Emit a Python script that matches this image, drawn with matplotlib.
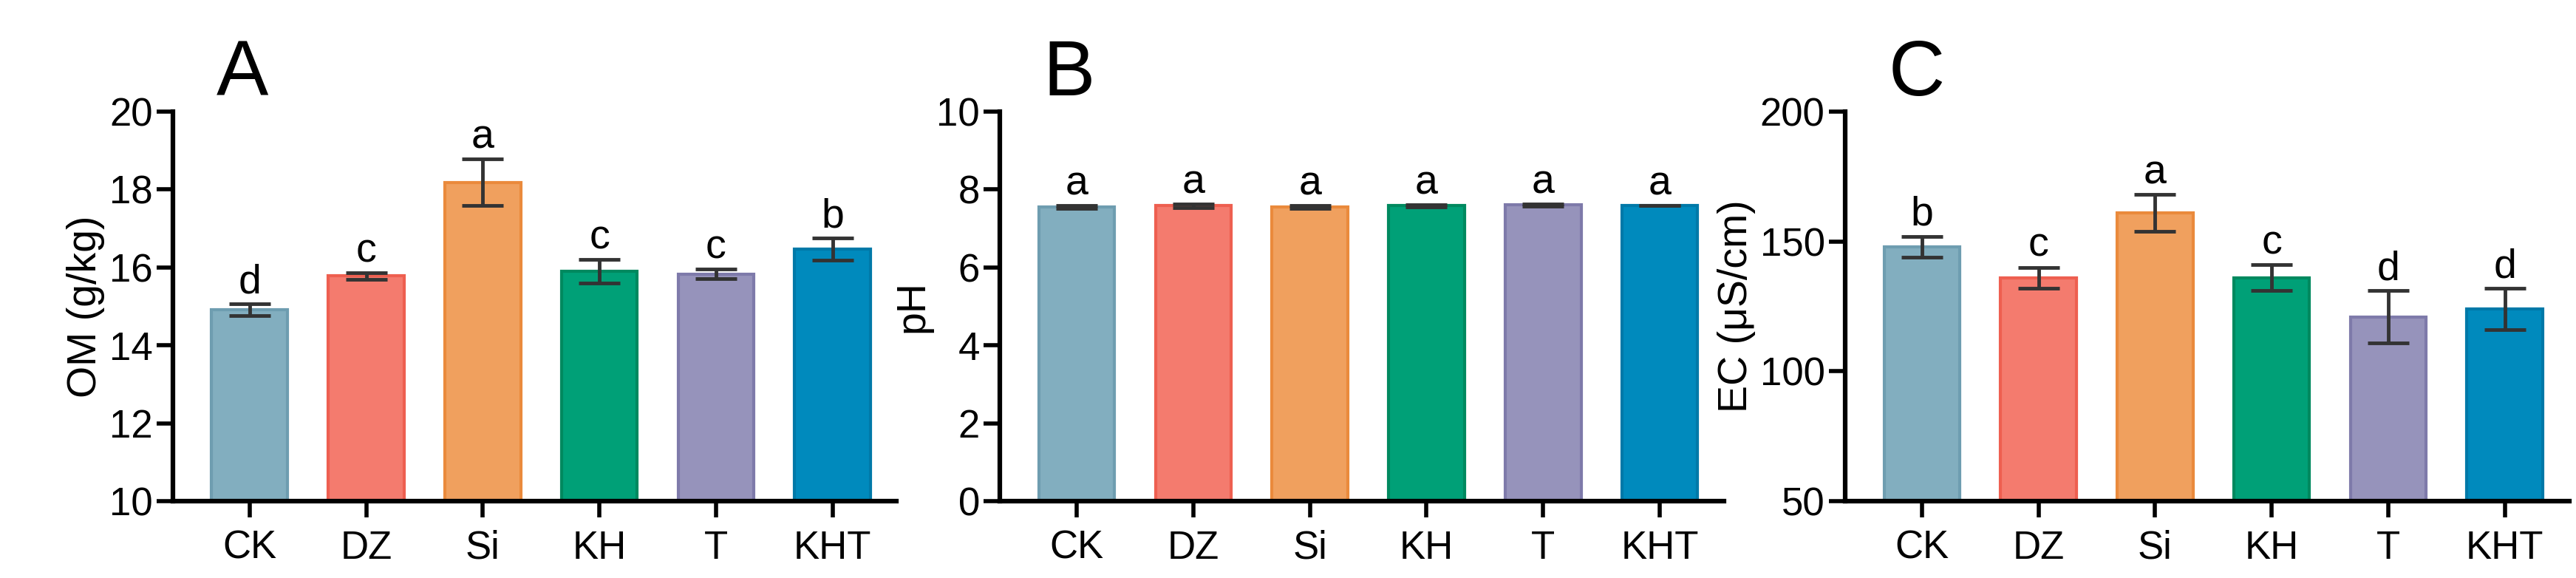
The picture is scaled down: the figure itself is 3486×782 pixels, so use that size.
import matplotlib
matplotlib.use("Agg")
import matplotlib.pyplot as plt
import numpy as np

plt.rcParams['font.family'] = ['Liberation Sans', 'DejaVu Sans']

groups = ["CK", "DZ", "Si", "KH", "T", "KHT"]
om = [14.92, 15.78, 18.18, 15.90, 15.83, 16.47]
om_err = [0.15, 0.08, 0.60, 0.30, 0.12, 0.28]
om_let = ["d", "c", "a", "c", "c", "b"]
ph = [7.55, 7.58, 7.55, 7.58, 7.60, 7.58]
ph_err = [0.04, 0.04, 0.03, 0.03, 0.03, 0.0]
ph_let = ["a"] * 6
ec = [148, 136, 161, 136, 121, 124]
ec_err = [4, 4, 7, 5, 10, 8]
ec_let = ["b", "c", "a", "c", "d", "d"]

fill = ["#82AEBF", "#F47B6E", "#F0A05E", "#00A077", "#9693BB", "#008ABD"]
edge = ["#6E9DB0", "#EE5F50", "#EA8A3C", "#00895F", "#7E7AAA", "#0079A8"]

fig = plt.figure(figsize=(34.87, 7.82), dpi=100)
specs = [
    (0.067, om, om_err, om_let, (10, 20), np.arange(10, 21, 2), "OM (g/kg)", "A", 0.25),
    (0.388, ph, ph_err, ph_let, (0, 10), np.arange(0, 11, 2), "pH", "B", 0.25),
    (0.716, ec, ec_err, ec_let, (50, 200), np.arange(50, 201, 50), "EC (μS/cm)", "C", 4),
]
x = np.arange(len(groups))
for left, vals, errs, lets, ylim, ticks, ylab, panel, off in specs:
    ax = fig.add_axes([left, 0.133, 0.281, 0.674])
    ax.bar(x, [v - ylim[0] for v in vals], bottom=ylim[0], width=0.65, color=fill,
           edgecolor=edge, linewidth=3)
    ax.errorbar(x, vals, yerr=errs, fmt="none", ecolor="#333333", elinewidth=3.5,
                capsize=20, capthick=3.5)
    for xi, v, e, l in zip(x, vals, errs, lets):
        ax.text(xi, v + e + off * 0.2, l, ha="center", va="bottom", fontsize=40)
    ax.set_xlim(-0.66, 5.55)
    ax.set_ylim(*ylim)
    ax.set_yticks(ticks)
    ax.set_xticks(x)
    ax.set_xticklabels(groups)
    ax.tick_params(labelsize=38, width=4, length=16)
    ax.tick_params(axis="x", pad=12)
    for s in ["top", "right"]:
        ax.spines[s].set_visible(False)
    for s in ["left", "bottom"]:
        ax.spines[s].set_linewidth(4.5)
    ax.set_ylabel(ylab, fontsize=40)
    ax.text(0.06, 1.0, panel, transform=ax.transAxes, fontsize=76, va="bottom", ha="left")

fig.savefig("out.png", dpi=100)
